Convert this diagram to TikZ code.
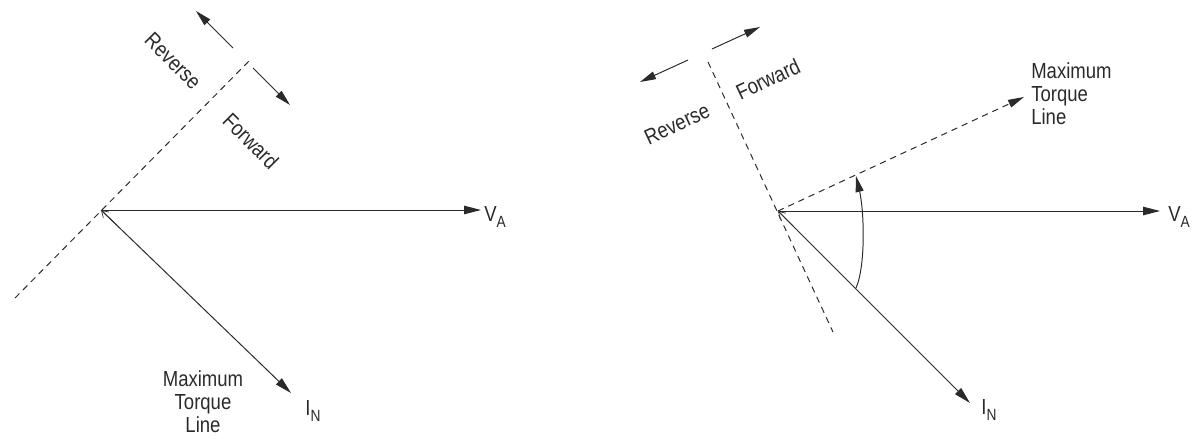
\documentclass[tikz,border=0pt]{standalone}
\usepackage{fontspec}
\setmainfont{Liberation Sans}[FakeStretch=0.85]
\usetikzlibrary{arrows.meta,calc}
\definecolor{ink}{HTML}{2A2A2A}
\tikzset{
  vec/.style={draw=ink, line width=0.7pt, -{Triangle[length=4.2mm,width=2.1mm]}},
  dirarrow/.style={draw=ink, line width=0.7pt, -{Triangle[length=4mm,width=2mm]}},
  boundary/.style={draw=ink, line width=0.7pt, dash pattern=on 4.5pt off 3.5pt},
  lbl/.style={font=\fontsize{15.5}{16.5}\selectfont, text=ink, inner sep=0pt},
  ml/.style={lbl, align=center}
}
\newcommand{\subtxt}[2]{#1\raisebox{-0.45ex}{\fontsize{11.5}{12}\selectfont #2}}
\begin{document}
\begin{tikzpicture}[x=0.025cm, y=-0.025cm]
\useasboundingbox (0,0) rectangle (1198,439);
% ---------- left diagram ----------
\coordinate (O1) at (101,210);
\coordinate (VA1) at (481,210);
\coordinate (IN1) at (291,393);
\coordinate (B1a) at (15,298);
\coordinate (B1b) at (252,58);
\draw[boundary] (B1a) -- (B1b);
\draw[vec] (O1) -- (VA1);
\draw[vec] (O1) -- (IN1);
\draw[draw=ink, line width=0.5pt, {Straight Barb[length=1.6mm,width=2mm]}-] (O1) -- ($(O1)!0.08!(IN1)$);
\node[lbl, anchor=west] (va1) at (484,217) {\subtxt{V}{A}};
\node[lbl] (in1) at (313,411) {\subtxt{I}{N}};
\node[ml] (mtl1) at (203,402) {Maximum\\Torque\\Line};
\coordinate (R1s) at (233,48); \coordinate (R1e) at (196,11);
\coordinate (F1s) at (253,68); \coordinate (F1e) at (290,105);
\draw[dirarrow] (R1s) -- (R1e);
\draw[dirarrow] (F1s) -- (F1e);
\node[lbl, rotate=-45] (rev1) at (173,61) {Reverse};
\node[lbl, rotate=-45] (fwd1) at (251,141) {Forward};
% ---------- right diagram ----------
\coordinate (O2) at (778,211);
\coordinate (VA2) at (1160,211);
\coordinate (IN2) at (970,403);
\coordinate (MT2) at (1024,97);
\coordinate (B2a) at (708,62);
\coordinate (B2b) at (833,332);
\draw[boundary] (B2a) -- (B2b);
\draw[boundary, -{Triangle[length=4mm,width=2mm]}] (O2) -- (MT2);
\draw[vec] (O2) -- (VA2);
\draw[vec] (O2) -- (IN2);
\draw[draw=ink, line width=0.5pt, {Straight Barb[length=1.6mm,width=2mm]}-] (O2) -- ($(O2)!0.08!(IN2)$);
\coordinate (A2s) at (856,288);
\coordinate (A2e) at (856,176);
\draw[dirarrow] (A2s) .. controls (866,265) and (864,210) .. (A2e);
\node[lbl, anchor=west] (va2) at (1168,217) {\subtxt{V}{A}};
\node[lbl] (in2) at (989,410) {\subtxt{I}{N}};
\node[lbl, align=left, anchor=west] (mtl2) at (1031,94) {Maximum\\Torque\\Line};
\coordinate (F2s) at (712,49); \coordinate (F2e) at (760,27);
\coordinate (R2s) at (688,60); \coordinate (R2e) at (640,82);
\draw[dirarrow] (F2s) -- (F2e);
\draw[dirarrow] (R2s) -- (R2e);
\node[lbl, rotate=25] (fwd2) at (768,79) {Forward};
\node[lbl, rotate=25] (rev2) at (677,124) {Reverse};
\end{tikzpicture}
\end{document}
